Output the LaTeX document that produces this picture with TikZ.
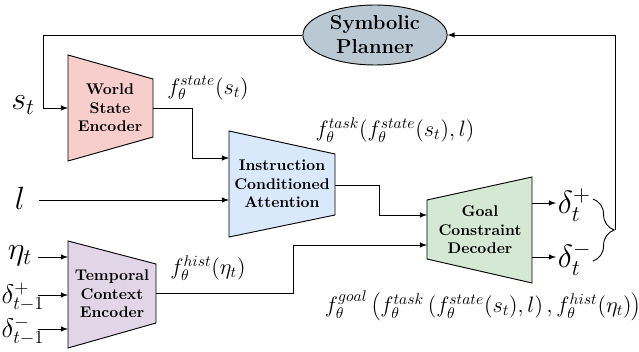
\documentclass[tikz,border=0pt]{standalone}
\usepackage{tikz}
\usetikzlibrary{shapes,arrows,calc,positioning}
\usetikzlibrary{decorations.pathreplacing}
\definecolor{wsefill}{HTML}{F8CECC}
\definecolor{icafill}{HTML}{DAE8FC}
\definecolor{gcdfill}{HTML}{D5E8D4}
\definecolor{tcefill}{HTML}{E1D5E7}
\definecolor{spfill}{HTML}{BAC8D3}

\begin{document}
\begin{tikzpicture}[x=0.02268cm,y=-0.02268cm,>=latex]

  \tikzstyle{blk} = [draw,semithick]
  \tikzstyle{lbl} = [align=center,font=\bfseries]
  \tikzstyle{planner} = [draw,semithick,ellipse,fill=spfill,align=center,font=\bfseries\fontsize{13}{15.5}\selectfont,minimum width=3.27cm,minimum height=1.36cm,inner sep=0pt]
  \tikzstyle{wire} = [semithick]

  \useasboundingbox (0,0) rectangle (639,352);

  % blocks
  \draw[blk,fill=wsefill] (68,55) -- (153,79) -- (153,137) -- (68,161) -- cycle;
  \node[lbl] (wse) at (110,108) {World\\State\\Encoder};

  \draw[blk,fill=icafill] (229,131) -- (335,154) -- (335,215) -- (229,237) -- cycle;
  \node[lbl] (ica) at (282,184) {Instruction\\Conditioned\\Attention};

  \draw[blk,fill=gcdfill] (427,200) -- (532,177) -- (532,283) -- (427,259) -- cycle;
  \node[lbl] (gcd) at (480,230) {Goal\\Constraint\\Decoder};

  \draw[blk,fill=tcefill] (68,241) -- (156,264) -- (156,323) -- (68,348) -- cycle;
  \node[lbl] (tce) at (112,294) {Temporal\\Context\\Encoder};

  \node[planner] (sp) at (375,35) {Symbolic\\Planner};

  % ports
  \coordinate (wse-in) at (68,108);
  \coordinate (wse-out) at (153,108);
  \coordinate (ica-in1) at (229,158);
  \coordinate (ica-in2) at (229,200);
  \coordinate (ica-out) at (335,185);
  \coordinate (gcd-in1) at (427,215);
  \coordinate (gcd-in2) at (427,245);
  \coordinate (gcd-out1) at (532,203);
  \coordinate (gcd-out2) at (532,257);
  \coordinate (tce-in1) at (68,257);
  \coordinate (tce-in2) at (68,295);
  \coordinate (tce-in3) at (68,329);
  \coordinate (tce-out) at (156,293);
  \coordinate (fb) at (43,108);

  % signals
  \node (st) at (23,105) {\huge $s_t$};
  \node (l) at (20,198) {\huge $l$};
  \node (eta) at (20,256) {\huge $\eta_t$};
  \node (dp) at (23,297) {\LARGE $\delta^+_{t-1}$};
  \node (dm) at (23,331) {\LARGE $\delta^-_{t-1}$};
  \coordinate (dp-out) at (38,295);
  \coordinate (dm-out) at (38,329);
  \node[anchor=west,inner sep=1pt] (dtp) at (556,205) {\huge $\delta^+_t$};
  \node[anchor=west,inner sep=1pt] (dtm) at (556,259) {\huge $\delta^-_t$};

  \node (fstate) at (208,88) {\Large $f^{state}_\theta(s_t)$};
  \node (ftask) at (395,130) {\Large $f^{task}_\theta(f^{state}_\theta(s_t),l)$};
  \node (fhist) at (208,268) {\Large $f^{hist}_\theta(\eta_t)$};
  \node (fgoal) at (483,306) {\Large $f^{goal}_\theta\left(f^{task}_\theta\left(f^{state}_\theta(s_t),l\right),f^{hist}_\theta(\eta_t)\right)$};

  % connectors
  \draw[wire,->] (sp.west) -| (fb) -- (wse-in);
  \draw[wire,->] (wse-out) -- (192,108) |- (ica-in1);
  \draw[wire,->] (l.east) ++(8,2) -- (ica-in2);
  \draw[wire,->] (ica-out) -- (379,185) |- (gcd-in1);
  \draw[wire,->] (tce-out) -- (293,293) |- (gcd-in2);
  \draw[wire,->] (eta.east) ++(0,1) -- (tce-in1);
  \draw[wire,->] (dp-out) -- (tce-in2);
  \draw[wire,->] (dm-out) -- (tce-in3);
  \draw[wire,->] (gcd-out1) -- (gcd-out1 -| dtp.west);
  \draw[wire,->] (gcd-out2) -- (gcd-out2 -| dtm.west);

  \draw[wire,decorate,decoration={brace,amplitude=0.48cm}] (593,199) -- (593,261);
  \coordinate (brtip) at (615,230);
  \draw[wire,->] (brtip) |- (sp.east);

\end{tikzpicture}
\end{document}
